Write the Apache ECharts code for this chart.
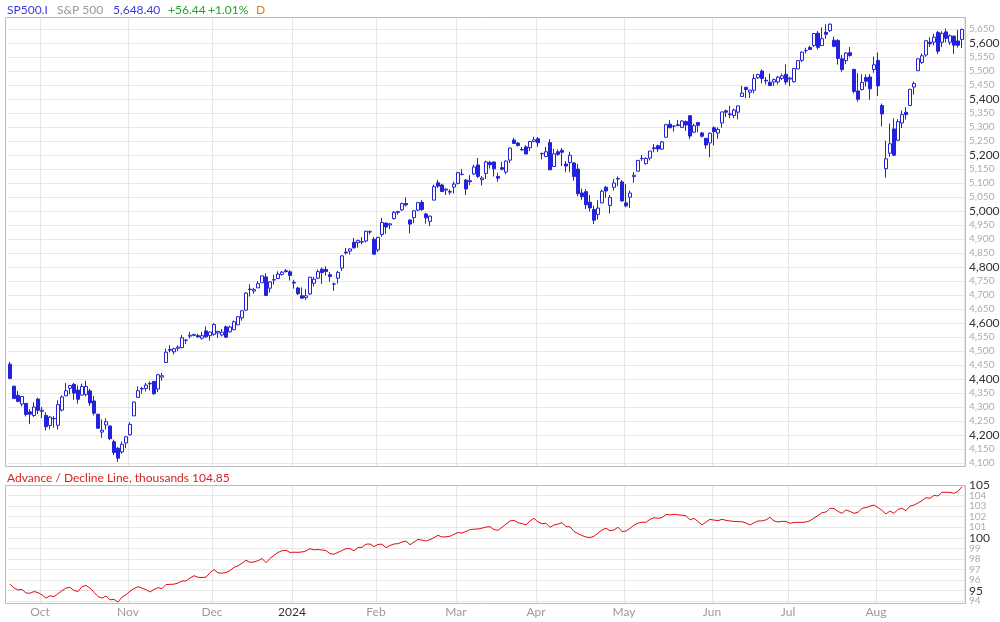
<!DOCTYPE html>
<html><head><meta charset="utf-8">
<script src="https://cdn.jsdelivr.net/npm/echarts@6/dist/echarts.min.js"></script>
<style>html,body{margin:0;padding:0;background:#fff}#c{width:1000px;height:622px}</style>
</head><body><div id="c"></div>
<script>
const dates = [
'2023-09-20','2023-09-21','2023-09-22','2023-09-25','2023-09-26','2023-09-27','2023-09-28','2023-09-29',
'2023-10-02','2023-10-03','2023-10-04','2023-10-05','2023-10-06','2023-10-09','2023-10-10','2023-10-11','2023-10-12','2023-10-13','2023-10-16','2023-10-17','2023-10-18','2023-10-19','2023-10-20','2023-10-23','2023-10-24','2023-10-25','2023-10-26','2023-10-27','2023-10-30','2023-10-31',
'2023-11-01','2023-11-02','2023-11-03','2023-11-06','2023-11-07','2023-11-08','2023-11-09','2023-11-10','2023-11-13','2023-11-14','2023-11-15','2023-11-16','2023-11-17','2023-11-20','2023-11-21','2023-11-22','2023-11-24','2023-11-27','2023-11-28','2023-11-29','2023-11-30',
'2023-12-01','2023-12-04','2023-12-05','2023-12-06','2023-12-07','2023-12-08','2023-12-11','2023-12-12','2023-12-13','2023-12-14','2023-12-15','2023-12-18','2023-12-19','2023-12-20','2023-12-21','2023-12-22','2023-12-26','2023-12-27','2023-12-28','2023-12-29',
'2024-01-02','2024-01-03','2024-01-04','2024-01-05','2024-01-08','2024-01-09','2024-01-10','2024-01-11','2024-01-12','2024-01-16','2024-01-17','2024-01-18','2024-01-19','2024-01-22','2024-01-23','2024-01-24','2024-01-25','2024-01-26','2024-01-29','2024-01-30','2024-01-31',
'2024-02-01','2024-02-02','2024-02-05','2024-02-06','2024-02-07','2024-02-08','2024-02-09','2024-02-12','2024-02-13','2024-02-14','2024-02-15','2024-02-16','2024-02-20','2024-02-21','2024-02-22','2024-02-23','2024-02-26','2024-02-27','2024-02-28','2024-02-29',
'2024-03-01','2024-03-04','2024-03-05','2024-03-06','2024-03-07','2024-03-08','2024-03-11','2024-03-12','2024-03-13','2024-03-14','2024-03-15','2024-03-18','2024-03-19','2024-03-20','2024-03-21','2024-03-22','2024-03-25','2024-03-26','2024-03-27','2024-03-28',
'2024-04-01','2024-04-02','2024-04-03','2024-04-04','2024-04-05','2024-04-08','2024-04-09','2024-04-10','2024-04-11','2024-04-12','2024-04-15','2024-04-16','2024-04-17','2024-04-18','2024-04-19','2024-04-22','2024-04-23','2024-04-24','2024-04-25','2024-04-26','2024-04-29','2024-04-30',
'2024-05-01','2024-05-02','2024-05-03','2024-05-06','2024-05-07','2024-05-08','2024-05-09','2024-05-10','2024-05-13','2024-05-14','2024-05-15','2024-05-16','2024-05-17','2024-05-20','2024-05-21','2024-05-22','2024-05-23','2024-05-24','2024-05-28','2024-05-29','2024-05-30','2024-05-31',
'2024-06-03','2024-06-04','2024-06-05','2024-06-06','2024-06-07','2024-06-10','2024-06-11','2024-06-12','2024-06-13','2024-06-14','2024-06-17','2024-06-18','2024-06-20','2024-06-21','2024-06-24','2024-06-25','2024-06-26','2024-06-27','2024-06-28',
'2024-07-01','2024-07-02','2024-07-03','2024-07-05','2024-07-08','2024-07-09','2024-07-10','2024-07-11','2024-07-12','2024-07-15','2024-07-16','2024-07-17','2024-07-18','2024-07-19','2024-07-22','2024-07-23','2024-07-24','2024-07-25','2024-07-26','2024-07-29','2024-07-30','2024-07-31',
'2024-08-01','2024-08-02','2024-08-05','2024-08-06','2024-08-07','2024-08-08','2024-08-09','2024-08-12','2024-08-13','2024-08-14','2024-08-15','2024-08-16','2024-08-19','2024-08-20','2024-08-21','2024-08-22','2024-08-23','2024-08-26','2024-08-27','2024-08-28','2024-08-29','2024-08-30'
];

const open = [
4452.8,4374.4,4341.7,4310.6,4312.9,4282.6,4269.7,4328.2,
4284.5,4269.8,4233.8,4259.3,4234.8,4289.0,4339.8,4366.6,4380.9,4360.5,4342.4,4345.2,4357.4,4321.4,4273.9,4210.4,4235.8,4232.4,4176.0,4152.9,4139.4,4171.3,
4201.3,4268.3,4334.2,4364.3,4366.2,4384.4,4391.4,4364.2,4406.7,4459.0,4505.3,4497.1,4509.6,4511.7,4538.8,4553.0,4555.8,4554.9,4545.6,4571.8,4554.9,
4559.4,4564.4,4557.3,4586.2,4568.8,4576.2,4593.4,4618.3,4646.2,4721.0,4714.2,4725.6,4743.7,4764.7,4724.3,4753.9,4758.9,4773.5,4786.4,4782.9,
4745.2,4725.1,4697.4,4690.6,4703.7,4741.9,4759.9,4792.1,4791.2,4772.4,4739.1,4760.1,4796.3,4853.4,4856.8,4888.6,4886.7,4888.9,4893.0,4925.9,4899.2,
4861.1,4916.1,4957.2,4950.2,4973.1,4995.2,5004.2,5026.8,4967.9,4976.4,5003.1,5031.1,4989.3,4963.0,5038.8,5100.9,5093.0,5074.6,5067.2,5085.4,
5098.5,5131.0,5110.5,5108.0,5132.4,5164.5,5112.0,5134.3,5173.5,5175.1,5123.3,5154.8,5139.1,5181.7,5253.4,5242.5,5219.5,5228.9,5226.3,5248.0,
5258.0,5204.3,5194.4,5244.1,5159.0,5211.4,5217.0,5167.9,5173.0,5171.5,5149.7,5064.6,5069.0,5031.5,5005.4,4987.3,5028.9,5084.9,5019.9,5084.7,5114.1,5103.8,
5029.0,5049.3,5122.8,5142.4,5187.2,5169.0,5189.0,5225.5,5233.1,5221.1,5263.3,5310.1,5303.1,5305.4,5298.7,5319.3,5340.3,5281.5,5315.9,5278.7,5259.8,5243.2,
5297.2,5278.2,5314.5,5357.8,5343.8,5341.2,5353.0,5409.1,5441.9,5424.1,5431.1,5476.2,5500.0,5466.8,5459.6,5460.7,5460.7,5473.6,5488.5,
5471.1,5461.8,5507.4,5537.9,5572.8,5584.2,5591.3,5635.2,5590.8,5638.2,5644.1,5610.1,5608.6,5543.4,5537.0,5565.3,5505.8,5428.7,5433.7,5476.6,5478.7,5505.6,
5537.8,5376.6,5151.1,5206.4,5293.1,5252.6,5314.4,5352.6,5377.0,5442.8,5501.1,5530.5,5557.2,5602.9,5603.1,5637.8,5602.6,5639.7,5602.9,5624.5,5607.3,5612.7
];

const high = [
4461.0,4375.7,4357.4,4338.5,4313.0,4292.1,4317.3,4333.2,
4300.6,4281.2,4268.5,4267.1,4324.1,4341.7,4385.5,4378.6,4385.9,4377.1,4383.3,4393.6,4364.2,4339.5,4276.6,4255.8,4259.4,4232.4,4183.6,4156.7,4177.5,4195.6,
4245.6,4319.7,4373.6,4372.2,4386.3,4391.2,4393.4,4418.0,4421.8,4508.7,4521.2,4512.0,4520.1,4557.1,4542.1,4568.4,4560.3,4561.7,4568.1,4587.6,4569.9,
4599.4,4572.4,4578.6,4590.7,4590.9,4609.2,4623.7,4643.9,4709.7,4738.6,4725.5,4749.5,4768.7,4778.0,4748.7,4772.9,4784.7,4785.4,4793.3,4788.4,
4754.3,4729.3,4726.8,4721.5,4764.5,4765.5,4790.8,4798.5,4802.4,4782.3,4744.2,4785.8,4842.1,4868.4,4866.5,4903.7,4898.2,4906.7,4929.3,4931.1,4906.8,
4907.0,4975.3,4957.2,4957.8,4999.9,5000.4,5030.1,5048.4,4970.0,5002.5,5032.7,5038.7,4993.7,4983.2,5094.4,5111.1,5097.7,5080.7,5077.4,5105.0,
5140.3,5149.7,5114.5,5128.0,5165.6,5189.3,5124.7,5179.9,5179.1,5176.9,5136.9,5175.6,5180.3,5226.2,5261.1,5246.1,5229.1,5235.2,5249.3,5264.9,
5264.0,5208.3,5228.8,5256.6,5222.2,5219.6,5224.8,5178.4,5211.8,5175.0,5168.4,5079.8,5078.0,5056.7,5019.0,5038.8,5076.1,5089.5,5057.8,5114.6,5123.5,5110.8,
5096.1,5073.2,5139.1,5181.0,5200.2,5192.0,5214.5,5239.7,5237.3,5250.4,5311.8,5325.5,5305.5,5325.3,5324.3,5323.2,5341.9,5311.7,5315.9,5282.3,5260.2,5280.3,
5302.1,5298.8,5354.2,5362.4,5375.1,5365.8,5376.0,5447.3,5441.9,5432.4,5488.5,5490.4,5505.5,5478.3,5490.7,5472.9,5483.1,5490.8,5523.6,
5479.6,5509.7,5539.3,5570.3,5583.1,5590.8,5635.4,5642.5,5655.6,5666.9,5669.7,5622.5,5614.1,5557.5,5566.2,5585.3,5508.0,5491.6,5488.3,5487.7,5489.5,5551.5,
5566.2,5383.9,5250.9,5312.3,5330.6,5328.0,5358.5,5370.8,5436.5,5463.2,5546.2,5562.0,5608.3,5620.5,5632.7,5643.2,5641.8,5651.6,5631.2,5627.0,5647.0,5651.4
];

const low = [
4401.4,4329.2,4316.5,4302.7,4266.0,4238.6,4264.4,4274.9,
4260.2,4216.5,4220.5,4225.9,4219.6,4283.8,4339.6,4345.3,4325.4,4312.0,4342.4,4337.5,4303.8,4269.7,4223.0,4189.2,4219.4,4181.4,4127.9,4103.8,4132.9,4153.1,
4197.7,4268.3,4334.2,4347.5,4355.4,4359.8,4343.9,4353.3,4393.8,4459.0,4495.3,4487.8,4499.7,4510.4,4525.5,4545.1,4552.8,4547.7,4540.5,4547.2,4537.2,
4554.7,4546.7,4551.7,4546.5,4565.2,4574.1,4593.4,4608.1,4643.2,4694.3,4704.7,4725.6,4743.7,4697.8,4708.4,4736.8,4758.5,4768.9,4781.0,4752.0,
4722.7,4699.7,4687.5,4682.1,4699.8,4730.4,4756.2,4739.6,4769.0,4747.1,4714.8,4740.6,4785.9,4844.1,4844.4,4865.9,4869.3,4881.5,4887.4,4916.3,4845.2,
4853.5,4908.0,4918.1,4934.9,4969.1,4987.1,5000.3,5016.4,4920.3,4956.5,4999.4,4999.5,4955.0,4946.0,5038.8,5081.5,5068.9,5057.3,5058.4,5061.9,
5094.2,5127.2,5056.8,5092.2,5128.2,5117.5,5091.1,5114.5,5151.9,5123.3,5104.4,5145.5,5131.6,5171.6,5240.7,5229.9,5216.1,5203.4,5213.9,5245.8,
5229.2,5184.1,5194.4,5146.1,5157.2,5197.4,5160.8,5138.7,5138.8,5107.9,5052.5,5039.8,5007.3,4998.1,4953.6,4969.4,5028.0,5047.0,4990.6,5073.1,5088.7,5035.3,
5013.5,5011.1,5101.2,5142.4,5179.0,5165.9,5180.4,5209.7,5211.2,5218.0,5263.3,5296.2,5283.6,5302.4,5297.9,5286.0,5256.9,5278.4,5280.9,5262.7,5222.1,5191.7,
5234.3,5257.6,5297.6,5335.4,5331.3,5331.5,5327.3,5409.1,5402.5,5403.8,5420.4,5471.3,5455.6,5452.0,5447.6,5446.6,5451.9,5467.5,5451.1,
5446.5,5458.4,5507.4,5531.6,5562.5,5574.6,5586.4,5576.5,5590.4,5614.8,5639.0,5584.8,5522.8,5497.0,5524.1,5550.9,5420.0,5391.0,5430.7,5444.4,5397.7,5493.8,
5410.4,5302.0,5119.3,5193.6,5195.5,5249.9,5296.2,5326.5,5377.0,5415.2,5501.1,5525.2,5550.7,5585.5,5591.6,5561.0,5585.2,5602.3,5593.5,5561.0,5583.7,5581.8
];

const close = [
4402.2,4330.0,4320.1,4337.4,4273.5,4274.5,4299.7,4288.1,
4288.4,4229.5,4263.8,4258.2,4308.5,4335.7,4358.2,4377.0,4349.6,4327.8,4373.6,4373.2,4314.6,4278.0,4224.2,4217.0,4247.7,4186.8,4137.2,4117.4,4166.8,4193.8,
4237.9,4317.8,4358.3,4366.0,4378.4,4382.8,4347.4,4415.2,4411.6,4495.7,4502.9,4508.2,4514.0,4547.4,4538.2,4556.6,4559.3,4550.4,4554.9,4550.6,4567.8,
4594.6,4569.8,4567.2,4549.3,4585.6,4604.4,4622.4,4643.7,4707.1,4719.6,4719.2,4740.6,4768.4,4698.4,4746.8,4754.6,4774.8,4781.6,4783.4,4769.8,
4742.8,4704.8,4688.7,4697.2,4763.5,4756.5,4783.5,4780.2,4783.8,4766.0,4739.2,4780.9,4839.8,4850.4,4864.6,4868.6,4894.2,4891.0,4927.9,4925.0,4845.7,
4906.2,4958.6,4942.8,4954.2,4995.1,4997.9,5026.6,5021.8,4953.2,5000.6,5029.7,5005.6,4975.5,4981.8,5087.0,5088.8,5069.5,5078.2,5069.8,5096.3,
5137.1,5130.9,5078.7,5104.8,5157.4,5123.7,5117.9,5175.3,5165.3,5150.5,5117.1,5149.4,5178.5,5224.6,5241.5,5234.2,5218.2,5203.6,5248.5,5254.4,
5243.8,5205.8,5211.5,5147.2,5204.3,5202.4,5209.9,5160.6,5199.1,5123.4,5061.8,5051.4,5022.2,5011.1,4967.2,5010.6,5070.6,5071.6,5048.4,5100.0,5116.2,5035.7,
5018.4,5064.2,5127.8,5180.7,5187.7,5187.7,5214.1,5222.7,5221.4,5246.7,5308.2,5297.1,5303.3,5308.1,5321.4,5307.0,5267.8,5304.7,5306.0,5267.0,5235.5,5277.5,
5283.4,5291.3,5354.0,5353.0,5347.0,5360.8,5375.3,5421.0,5433.7,5431.6,5473.2,5487.0,5473.2,5464.6,5447.9,5469.3,5477.9,5482.9,5460.5,
5475.1,5509.0,5537.0,5567.2,5572.9,5577.0,5633.9,5584.5,5615.4,5631.2,5667.2,5588.3,5544.6,5505.0,5564.4,5555.7,5427.1,5399.2,5459.1,5463.5,5436.4,5522.3,
5446.7,5346.6,5186.3,5240.0,5199.5,5319.3,5344.2,5344.4,5434.4,5455.2,5543.2,5554.3,5608.3,5597.1,5620.9,5570.6,5634.6,5616.8,5625.8,5592.2,5591.96,5648.40
];

// Advance / Decline line, thousands
const adLine = [
95.63,95.25,95.07,95.12,94.78,94.76,94.92,94.82,94.60,94.30,
94.52,94.44,94.72,95.00,95.25,95.32,95.02,94.92,95.38,95.50,
95.25,94.85,94.45,94.30,94.50,94.14,94.18,93.92,94.40,94.62,
94.95,95.20,95.38,95.24,95.10,94.88,95.12,95.28,95.20,95.58,
95.60,95.62,95.72,95.92,95.92,96.20,96.42,96.27,96.25,96.28,
96.70,97.00,96.68,96.66,96.72,96.90,97.22,97.35,97.60,97.88,
97.68,97.72,97.84,98.05,97.65,98.05,98.35,98.62,98.78,98.82,
98.62,98.64,98.63,98.66,98.76,98.98,98.86,98.90,98.85,98.80,
98.50,98.45,98.63,98.80,98.98,98.98,98.78,99.08,99.10,99.40,
99.42,99.16,99.38,99.40,99.07,99.28,99.42,99.45,99.60,99.70,
99.35,99.60,99.86,99.78,99.70,99.84,100.02,100.24,100.08,100.10,
100.15,100.34,100.50,100.46,100.60,100.78,100.82,100.84,100.92,101.02,
101.06,100.78,100.72,101.00,101.30,101.60,101.65,101.44,101.35,101.22,
101.60,101.85,101.50,101.34,101.38,101.00,101.22,101.30,101.44,101.06,
101.05,100.60,100.40,100.22,100.08,100.03,100.15,100.45,100.75,100.91,
100.68,100.75,101.00,100.60,100.64,100.90,101.20,101.40,101.48,101.47,
101.75,101.90,101.85,101.92,102.22,102.17,102.23,102.18,102.14,102.10,
101.70,101.85,101.55,101.22,101.50,101.75,101.68,101.63,101.75,101.66,
101.60,101.55,101.53,101.53,101.40,101.22,101.42,101.60,101.60,101.70,
101.94,101.60,101.50,101.56,101.56,101.38,101.46,101.47,101.47,101.50,
101.62,101.88,102.10,102.38,102.45,102.79,102.78,102.50,102.32,102.64,
102.50,102.32,102.42,102.79,102.86,103.00,103.11,102.85,102.60,102.26,
102.54,102.32,102.70,102.79,102.57,103.01,103.10,103.30,103.52,103.80,
103.74,104.02,103.96,104.31,104.31,104.30,104.21,104.40,104.85
];

const monthNames = ['Jan','Feb','Mar','Apr','May','Jun','Jul','Aug','Sep','Oct','Nov','Dec'];
const symbolName = 'SP500.I';
const indexName = 'S&P 500';
const periodCode = 'D';
const adTitle = 'Advance / Decline Line, thousands';

const BLUE = '#2222dd';
const GRIDC = '#e7e7e7';
const FRAMEC = '#bcbcbc';
const FONT = 'Lato, "Open Sans", sans-serif';
const HFONT = '12px ' + FONT;
const AD_UNIT_PX = 10.57;

function comma(v, d) {
  const s = Number(v).toFixed(d);
  const p = s.split('.');
  p[0] = p[0].replace(/\B(?=(\d{3})+(?!\d))/g, ',');
  return p.join('.');
}
function isMonthStart(i) {
  return i > 0 && dates[i].slice(5, 7) !== dates[i - 1].slice(5, 7);
}
function monthLabel(d) {
  const m = +d.slice(5, 7);
  return m === 1 ? '{y|' + d.slice(0, 4) + '}' : '{m|' + monthNames[m - 1] + '}';
}

const n = close.length;
const lastClose = close[n - 1];
const chg = lastClose - close[n - 2];
const pct = chg / close[n - 2] * 100;
const sign = chg >= 0 ? '+' : '-';

const candleData = dates.map((d, i) => [open[i], close[i], low[i], high[i]]);

const catBase = {
  type: 'category', data: dates, boundaryGap: true,
  axisLine: { show: false }, axisTick: { show: false },
  axisLabel: { show: false }, splitLine: { show: false }
};

const chart = echarts.init(document.getElementById('c'), null, { renderer: 'canvas' });
chart.setOption({
  animation: false,
  backgroundColor: '#ffffff',
  textStyle: { fontFamily: FONT },
  grid: [
    { left: 8, top: 15, width: 956, height: 462, outerBoundsMode: 'none', containLabel: false },
    { left: 8, top: 17.5, width: 956, height: 449, outerBoundsMode: 'none', containLabel: false },
    { left: 8, top: 485 - AD_UNIT_PX, width: 956, height: 13 * AD_UNIT_PX, outerBoundsMode: 'none', containLabel: false },
    { left: 8, top: 485.5, width: 956, height: 118, outerBoundsMode: 'none', containLabel: false }
  ],
  xAxis: [
    Object.assign({}, catBase, { gridIndex: 0 }),
    Object.assign({}, catBase, { gridIndex: 1,
      splitLine: { show: true, interval: (i) => isMonthStart(i), lineStyle: { color: GRIDC, width: 1 } } }),
    Object.assign({}, catBase, { gridIndex: 2 }),
    Object.assign({}, catBase, { gridIndex: 3,
      splitLine: { show: true, interval: (i) => isMonthStart(i), lineStyle: { color: GRIDC, width: 1 } },
      axisLabel: { show: true, interval: (i) => isMonthStart(i), margin: 3, padding: [0, 4, 0, 0],
        formatter: (v) => monthLabel(v), hideOverlap: false,
        rich: {
          m: { color: '#9a9a9a', fontSize: 12, fontFamily: FONT },
          y: { color: '#333333', fontSize: 12, fontFamily: FONT }
        } } })
  ],
  yAxis: [
    { type: 'value', gridIndex: 0, position: 'right', min: 4050, max: 5700, interval: 50,
      axisLine: { show: false }, axisTick: { show: false },
      splitLine: { show: true, showMinLine: false, showMaxLine: false, lineStyle: { color: GRIDC, width: 1 } },
      axisLabel: { showMinLabel: false, showMaxLabel: false, margin: 5, hideOverlap: false,
        formatter: (v) => (v % 200 === 0 ? '{a|' : '{b|') + comma(v, 0) + '}',
        rich: {
          a: { color: '#333333', fontSize: 12, lineHeight: 12, fontFamily: FONT },
          b: { color: '#adadad', fontSize: 10, lineHeight: 10, fontFamily: FONT }
        } } },
    { type: 'value', gridIndex: 1, show: false },
    { type: 'value', gridIndex: 2, position: 'right', min: 93, max: 106, interval: 1,
      axisLine: { show: false }, axisTick: { show: false },
      splitLine: { show: true, showMinLine: false, showMaxLine: false, lineStyle: { color: GRIDC, width: 1 } },
      axisLabel: { showMinLabel: false, showMaxLabel: false, margin: 5, hideOverlap: false,
        formatter: (v) => (v % 5 === 0 ? '{a|' : '{b|') + v + '}',
        rich: {
          a: { color: '#333333', fontSize: 12, fontFamily: FONT },
          b: { color: '#adadad', fontSize: 10, fontFamily: FONT }
        } } },
    { type: 'value', gridIndex: 3, show: false }
  ],
  series: [
    { type: 'candlestick', xAxisIndex: 0, yAxisIndex: 0, data: candleData, barWidth: 3,
      itemStyle: { color: '#ffffff', color0: BLUE, borderColor: BLUE, borderColor0: BLUE, borderColorDoji: BLUE, borderWidth: 1 },
      emphasis: { disabled: true }, silent: true },
    { type: 'line', xAxisIndex: 2, yAxisIndex: 2, data: adLine, symbol: 'none', smooth: false,
      lineStyle: { color: '#dd1111', width: 1 }, silent: true }
  ],
  graphic: [
    { type: 'rect', silent: true, z: 100, shape: { x: 5.5, y: 17.5, width: 960, height: 449 },
      style: { fill: 'transparent', stroke: FRAMEC, lineWidth: 1 } },
    { type: 'rect', silent: true, z: 100, shape: { x: 5.5, y: 485.5, width: 960, height: 118 },
      style: { fill: 'transparent', stroke: FRAMEC, lineWidth: 1 } },
    { type: 'text', x: 7, y: 10, style: { text: symbolName, fill: '#3a3ae2', font: HFONT, verticalAlign: 'middle' } },
    { type: 'text', x: 57, y: 10, style: { text: indexName, fill: '#9a9a9a', font: HFONT, verticalAlign: 'middle' } },
    { type: 'text', x: 113, y: 10, style: { text: comma(lastClose, 2), fill: '#3a3ae2', font: HFONT, verticalAlign: 'middle' } },
    { type: 'text', x: 168, y: 10, style: { text: sign + Math.abs(chg).toFixed(2), fill: '#22a030', font: HFONT, verticalAlign: 'middle' } },
    { type: 'text', x: 208, y: 10, style: { text: sign + Math.abs(pct).toFixed(2) + '%', fill: '#22a030', font: HFONT, verticalAlign: 'middle' } },
    { type: 'text', x: 256, y: 10, style: { text: periodCode, fill: '#f07c1c', font: HFONT, verticalAlign: 'middle' } },
    { type: 'text', x: 7, y: 478, style: { text: adTitle + ' ' + adLine[adLine.length - 1].toFixed(2), fill: '#d81e1e', font: HFONT, verticalAlign: 'middle' } }
  ]
});
</script>
</body></html>
